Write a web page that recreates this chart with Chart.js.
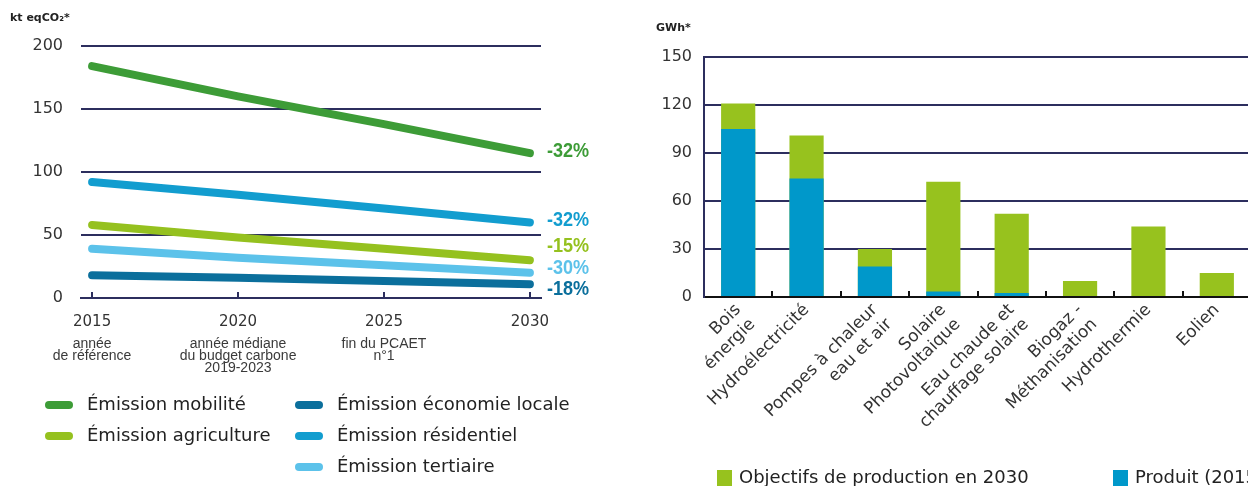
<!DOCTYPE html>
<html lang="fr">
<head>
<meta charset="utf-8">
<title>Émissions et production d'énergie renouvelable</title>
<script src="https://cdn.jsdelivr.net/npm/chart.js@4.4.1/dist/chart.umd.min.js"></script>
<style>
  html, body { margin: 0; padding: 0; background: #ffffff; }
  body { width: 1248px; height: 486px; overflow: hidden; position: relative; }
  #emissions { position: absolute; left: 0; top: 0; }
  #production { position: absolute; left: 620px; top: 0; }
</style>
</head>
<body>
<canvas id="emissions" width="620" height="486"></canvas>
<canvas id="production" width="640" height="486"></canvas>
<script>
// ---- Émissions de GES par secteur (kt eqCO2) ----
const years = [2015, 2020, 2025, 2030];
const yearNotes = [
  ['année', 'de référence'],
  ['année médiane', 'du budget carbone', '2019-2023'],
  ['fin du PCAET', 'n°1'],
  []
];
const emissionTicks = [0, 50, 100, 150, 200];
const sectorNames = ['Émission mobilité', 'Émission agriculture', 'Émission économie locale', 'Émission résidentiel', 'Émission tertiaire'];
const mobilite = [184, 160, 138, 115];
const agriculture = [58, 48, 39, 30];
const economieLocale = [18, 16, 13.5, 11];
const residentiel = [92, 82, 71, 60];
const tertiaire = [39, 32, 26, 20];
const reductions = ['-32%', '-15%', '-18%', '-32%', '-30%'];

// ---- Production d'énergie renouvelable (GWh) ----
const energySources = [
  ['Bois', 'énergie'],
  'Hydroélectricité',
  ['Pompes à chaleur', 'eau et air'],
  ['Solaire', 'Photovoltaique'],
  ['Eau chaude et', 'chauffage solaire'],
  ['Biogaz -', 'Méthanisation'],
  'Hydrothermie',
  'Eolien'
];
const productionTicks = [0, 30, 60, 90, 120, 150];
const objectifs2030 = [121, 101, 30, 72, 52, 10, 44, 15];
const produit2015 = [105, 74, 19, 3.5, 2.5, 0, 0, 0];
const productionNames = ['Objectifs de production en 2030', 'Produit (2015)'];

// ---- shared styling ----
const NAVY = '#2c2e5e';
const TEXT = '#333333';
const SANS = '"DejaVu Sans", "Open Sans", sans-serif';
const PLAIN = '"Liberation Sans", Arial, sans-serif';
Chart.defaults.font.family = SANS;
Chart.defaults.color = TEXT;

const sectorColors = ['#3d9c37', '#95c11f', '#0b6f9c', '#129dcf', '#5cc2ea'];

const fixedTicks = list => scale => { scale.ticks = list.map(v => ({ value: v })); };

// small upward tick marks standing on the x axis line
const innerTicks = {
  id: 'innerTicks',
  afterDraw(chart, args, opts) {
    const { ctx, chartArea } = chart;
    const xs = opts.positions(chart);
    ctx.save();
    ctx.strokeStyle = opts.color;
    ctx.lineWidth = 2;
    ctx.beginPath();
    xs.forEach(x => {
      const px = Math.round(x);
      ctx.moveTo(px, chartArea.bottom);
      ctx.lineTo(px, chartArea.bottom - opts.length);
    });
    ctx.stroke();
    ctx.restore();
  }
};

// unit caption above the value axis
const unitCaption = {
  id: 'unitCaption',
  afterDraw(chart, args, opts) {
    const { ctx } = chart;
    ctx.save();
    ctx.font = 'bold 11px ' + SANS;
    ctx.fillStyle = '#222';
    ctx.textBaseline = 'middle';
    ctx.textAlign = 'left';
    ctx.fillText(opts.text, opts.x, opts.y);
    ctx.restore();
  }
};

// percentage change written at the end of each line (condensed bold)
const endLabels = {
  id: 'endLabels',
  afterDatasetsDraw(chart, args, opts) {
    const { ctx, chartArea } = chart;
    chart.data.datasets.forEach((ds, i) => {
      const pts = chart.getDatasetMeta(i).data;
      const last = pts[pts.length - 1];
      ctx.save();
      ctx.translate(chartArea.right + 6, last.y + opts.nudge[i]);
      ctx.scale(0.86, 1);
      ctx.font = 'bold 21px ' + PLAIN;
      ctx.textBaseline = 'middle';
      ctx.textAlign = 'left';
      ctx.fillStyle = ds.borderColor;
      ctx.fillText(opts.texts[i], 0, 0);
      ctx.restore();
    });
  }
};

// explanatory notes under the year labels
const yearCaptions = {
  id: 'yearCaptions',
  afterDraw(chart) {
    const { ctx, chartArea, scales } = chart;
    ctx.save();
    ctx.font = '14px ' + PLAIN;
    ctx.fillStyle = '#3a3a3a';
    ctx.textAlign = 'center';
    ctx.textBaseline = 'middle';
    years.forEach((yr, i) => {
      const x = scales.x.getPixelForValue(yr);
      yearNotes[i].forEach((line, k) => {
        ctx.fillText(line, x, chartArea.bottom + 46 + k * 12);
      });
    });
    ctx.restore();
  }
};

// legend laid out in columns, with rounded line markers
const lineLegend = {
  id: 'lineLegend',
  afterDraw(chart, args, opts) {
    const { ctx } = chart;
    ctx.save();
    ctx.font = '18px ' + SANS;
    ctx.textBaseline = 'middle';
    ctx.textAlign = 'left';
    chart.data.datasets.forEach((ds, i) => {
      const [col, row] = opts.slots[i];
      const x = opts.x + col * opts.colWidth;
      const y = opts.y + row * opts.rowHeight;
      ctx.strokeStyle = ds.borderColor;
      ctx.lineWidth = 8;
      ctx.lineCap = 'round';
      ctx.beginPath();
      ctx.moveTo(x + 4, y);
      ctx.lineTo(x + 24, y);
      ctx.stroke();
      ctx.fillStyle = '#222';
      ctx.fillText(ds.label, x + 42, y);
    });
    ctx.restore();
  }
};

// legend with square swatches
const boxLegend = {
  id: 'boxLegend',
  afterDraw(chart, args, opts) {
    const { ctx } = chart;
    ctx.save();
    ctx.font = '18px ' + SANS;
    ctx.textBaseline = 'middle';
    ctx.textAlign = 'left';
    const items = chart.data.datasets.slice().sort((a, b) => b.order - a.order);
    items.forEach((ds, i) => {
      const x = opts.xs[i];
      ctx.fillStyle = ds.backgroundColor;
      ctx.fillRect(x, opts.y - 8, 15, 16);
      ctx.fillStyle = '#222';
      ctx.fillText(ds.label, x + 22, opts.y);
    });
    ctx.restore();
  }
};

const toPoints = values => years.map((yr, i) => ({ x: yr, y: values[i] }));

new Chart(document.getElementById('emissions'), {
  type: 'line',
  data: {
    datasets: [mobilite, agriculture, economieLocale, residentiel, tertiaire].map((values, i) => ({
      label: sectorNames[i],
      data: toPoints(values),
      borderColor: sectorColors[i],
      backgroundColor: sectorColors[i]
    }))
  },
  options: {
    responsive: false,
    animation: false,
    layout: { padding: { top: 46, right: 79, bottom: 0, left: 0 } },
    elements: {
      line: { borderWidth: 8, borderCapStyle: 'round', borderJoinStyle: 'round', tension: 0 },
      point: { radius: 0, hoverRadius: 0 }
    },
    plugins: {
      legend: { display: false },
      tooltip: { enabled: false },
      innerTicks: {
        color: NAVY, length: 6,
        positions: chart => years.map(yr => chart.scales.x.getPixelForValue(yr))
      },
      unitCaption: { text: 'kt eqCO₂*', x: 10, y: 18 },
      endLabels: { texts: reductions, nudge: [-2, -14, 5, -2, -5] },
      lineLegend: {
        x: 45, y: 405, colWidth: 250, rowHeight: 31,
        slots: [[0, 0], [0, 1], [1, 0], [1, 1], [1, 2]]
      }
    },
    scales: {
      x: {
        type: 'linear',
        min: 2014.62,
        max: 2030.38,
        afterBuildTicks: fixedTicks(years),
        afterFit: scale => { scale.height = 188; },
        grid: { drawOnChartArea: false, drawTicks: false },
        border: { display: true, color: NAVY, width: 2 },
        ticks: { padding: 15, font: { size: 15 }, color: TEXT, callback: v => String(v), maxRotation: 0 }
      },
      y: {
        min: 0,
        max: 200,
        afterBuildTicks: fixedTicks(emissionTicks),
        afterFit: scale => { scale.width = 81; },
        grid: { color: NAVY, lineWidth: 2, drawTicks: false },
        border: { display: false },
        ticks: { padding: 18, font: { size: 16 }, color: TEXT }
      }
    }
  },
  plugins: [innerTicks, unitCaption, endLabels, yearCaptions, lineLegend]
});

new Chart(document.getElementById('production'), {
  type: 'bar',
  data: {
    labels: energySources,
    datasets: [
      {
        label: productionNames[0],
        data: objectifs2030,
        backgroundColor: '#97c21e',
        grouped: false,
        order: 2
      },
      {
        label: productionNames[1],
        data: produit2015,
        backgroundColor: '#0098ca',
        grouped: false,
        order: 1
      }
    ]
  },
  options: {
    responsive: false,
    animation: false,
    layout: { padding: { top: 57, right: 9, bottom: 0, left: 0 } },
    datasets: { bar: { barPercentage: 0.5, categoryPercentage: 1 } },
    plugins: {
      legend: { display: false },
      tooltip: { enabled: false },
      innerTicks: {
        color: '#111', length: 6,
        positions: chart => {
          const xs = chart.scales.x;
          const out = [];
          for (let i = 1; i <= energySources.length; i++) {
            out.push(xs.getPixelForValue(i - 0.5));
          }
          return out;
        }
      },
      unitCaption: { text: 'GWh*', x: 36, y: 28 },
      boxLegend: { xs: [97, 493], y: 478 }
    },
    scales: {
      x: {
        afterFit: scale => { scale.height = 189; },
        grid: { drawOnChartArea: false, drawTicks: false, offset: true },
        border: { display: true, color: '#111', width: 2 },
        ticks: { padding: 3, minRotation: 45, maxRotation: 45, autoSkip: false, font: { size: 17 }, color: TEXT }
      },
      y: {
        min: 0,
        max: 150,
        afterBuildTicks: fixedTicks(productionTicks),
        afterFit: scale => { scale.width = 84; },
        grid: { color: NAVY, lineWidth: 2, drawTicks: false },
        border: { display: true, color: NAVY, width: 2 },
        ticks: { padding: 12, font: { size: 16 }, color: TEXT }
      }
    }
  },
  plugins: [innerTicks, unitCaption, boxLegend]
});
</script>
</body>
</html>
